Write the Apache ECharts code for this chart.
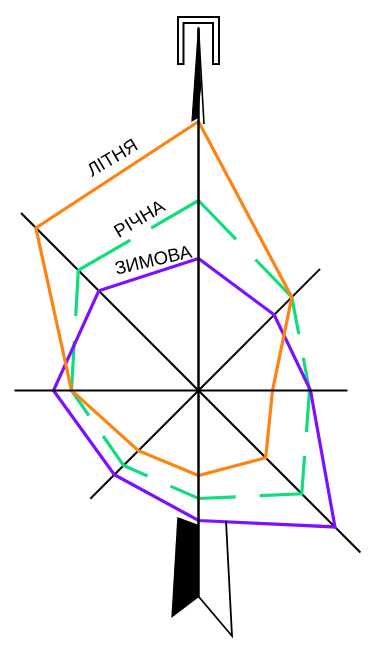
<!DOCTYPE html>
<html><head><meta charset="utf-8">
<style>html,body{margin:0;padding:0;background:#fff}#c{width:370px;height:654px}</style>
<script src="https://cdn.jsdelivr.net/npm/echarts@6/dist/echarts.min.js"></script>
</head><body><div id="c"></div>
<script>
// directions: N, NE, E, SE, S, SW, W, NW (compass degrees)
var directions = [0, 45, 90, 135, 180, 225, 270, 315];
var summer = [269, 132, 74, 95, 85, 85, 127, 230];
var annual = [190, 132, 111, 146, 108, 106, 127, 170];
var winter = [132, 107, 112, 193, 130, 119, 145, 141];
var spokeLengths = [362, 172, 149, 229, 207, 153, 184, 251];
var names = ['ЛІТНЯ', 'РІЧНА', 'ЗИМОВА'];

function closed(values) {
  var pts = values.map(function (v, i) { return [v, directions[i]]; });
  pts.push([values[0], 360]);
  return pts;
}
function poly(name, values, color, z, dash) {
  return {
    type: 'line', name: name, coordinateSystem: 'polar', data: closed(values),
    symbol: 'none', silent: true, z: z, clip: false, animation: false,
    lineStyle: { color: color, width: 3.2, type: dash || 'solid', join: 'miter' }
  };
}
function spoke(i, width, z) {
  return {
    type: 'line', coordinateSystem: 'polar', data: [[0, directions[i]], [spokeLengths[i], directions[i]]],
    symbol: 'none', silent: true, z: z, clip: false, animation: false,
    lineStyle: { color: '#000', width: width }
  };
}
var series = [];
[1, 3, 5, 7].forEach(function (i) { series.push(spoke(i, 2, 2)); });
series.push(poly(names[1], annual, '#11dd7c', 3, [54,28,90,24,75,24,80,24,68,25,62,25,80,25,106,24,60,100]));
series.push(poly(names[2], winter, '#7f0fff', 4));
series.push(poly(names[0], summer, '#ff8311', 5));
[2, 6].forEach(function (i) { series.push(spoke(i, 2, 6)); });
[0, 4].forEach(function (i) { series.push(spoke(i, 2.5, 6)); });

function label(text, x, y, deg) {
  return { type: 'text', x: x, y: y, rotation: deg * Math.PI / 180, z: 20,
    style: { text: text, fill: '#000', font: '18.5px "Liberation Sans"', align: 'center', verticalAlign: 'middle' } };
}
var chart = echarts.init(document.getElementById('c'), null, { renderer: 'canvas' });
chart.setOption({
  animation: false,
  backgroundColor: '#fff',
  polar: { center: [198.5, 390.5], radius: 400 },
  angleAxis: { type: 'value', min: 0, max: 360, startAngle: 90, clockwise: true, show: false },
  radiusAxis: { type: 'value', min: 0, max: 400, show: false },
  series: series,
  graphic: [
    { type: 'polygon', z: 10, shape: { points: [[178,17],[219,17],[219,64],[213,64],[213,23],[183.5,23],[183.5,64],[178,64]] },
      style: { fill: '#fff', stroke: '#000', lineWidth: 2 } },
    { type: 'polygon', z: 11, shape: { points: [[198.5,27],[192,121],[197,118],[200.5,88]] }, style: { fill: '#000', stroke: '#000', lineWidth: 1.2 } },
    { type: 'polyline', z: 11, shape: { points: [[198.5,27],[204,124]] }, style: { stroke: '#000', lineWidth: 1.6, fill: null } },
    { type: 'polygon', z: 11, shape: { points: [[177.3,517],[199,525],[199,597],[171.3,618]] }, style: { fill: '#000' } },
    { type: 'polyline', z: 11, shape: { points: [[199,597],[232,636],[226,521]] }, style: { stroke: '#000', lineWidth: 1.8, fill: null } },
    label(names[0], 113, 158.5, 31),
    label(names[1], 140, 219.5, 31),
    label(names[2], 153.5, 261, 13)
  ]
});
</script></body></html>
